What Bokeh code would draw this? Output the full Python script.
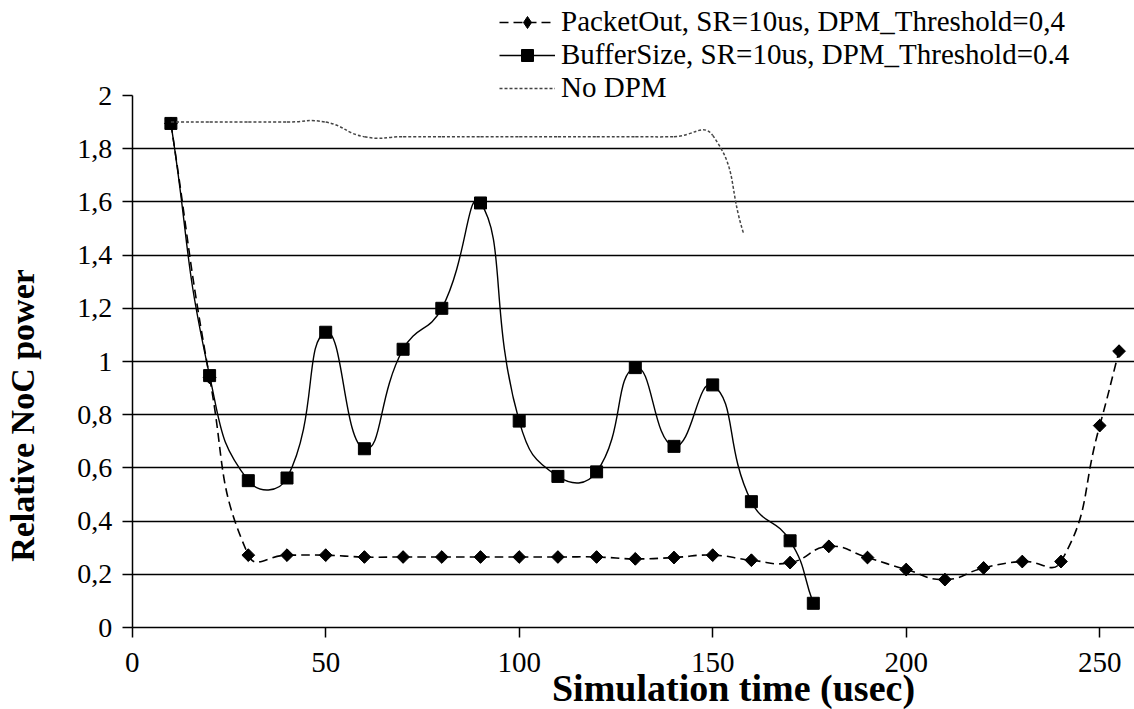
import math
from bokeh.plotting import figure
from bokeh.models import (Range1d, FixedTicker, Legend, LegendItem, Label,
                          ColumnDataSource, Grid)
from bokeh.embed import file_html
from bokeh.resources import INLINE

# ---------------- data ----------------
packet_x = [10, 20, 30, 40, 50, 60, 70, 80, 90, 100, 110, 120, 130, 140, 150,
            160, 170, 180, 190, 200, 210, 220, 230, 240, 250, 255]
packet_y = [1.895, 0.94, 0.272, 0.272, 0.272, 0.265, 0.265, 0.265, 0.265, 0.265,
            0.265, 0.265, 0.258, 0.263, 0.272, 0.253, 0.244, 0.305, 0.263, 0.218,
            0.18, 0.224, 0.248, 0.248, 0.759, 1.039]

buffer_x = [10, 20, 30, 40, 50, 60, 70, 80, 90, 100, 110, 120, 130, 140, 150,
            160, 170, 176]
buffer_y = [1.895, 0.947, 0.552, 0.562, 1.11, 0.672, 1.046, 1.2, 1.596, 0.776,
            0.568, 0.585, 0.977, 0.681, 0.912, 0.473, 0.326, 0.091]

nodpm_x = [10, 20, 30, 40, 50, 60, 70, 80, 90, 100, 110, 120, 130, 140, 150, 158]
nodpm_y = [1.9, 1.9, 1.9, 1.9, 1.9, 1.845, 1.845, 1.845, 1.845, 1.845, 1.845,
           1.845, 1.845, 1.845, 1.85, 1.48]

series_names = ["PacketOut, SR=10us, DPM_Threshold=0,4",
                "BufferSize, SR=10us, DPM_Threshold=0.4",
                "No DPM"]

x_ticks = [0, 50, 100, 150, 200, 250]
y_ticks = [0, 0.2, 0.4, 0.6, 0.8, 1, 1.2, 1.4, 1.6, 1.8, 2]
y_tick_labels = ["0", "0,2", "0,4", "0,6", "0,8", "1", "1,2", "1,4", "1,6", "1,8", "2"]
grid_ticks = [0.2, 0.4, 0.6, 0.8, 1, 1.2, 1.4, 1.6, 1.8]

x_title = "Simulation time (usec)"
y_title = "Relative NoC power"

# ---------------- layout (pixels) ----------------
W, H = 1134, 709
X0_PX, Y0_PX = 131.7, 627.0     # where data (0, 0) lies in the figure
KX, KY = 3.87, 266.0            # pixels per data unit
X_MIN = -X0_PX / KX
X_MAX = (W - X0_PX) / KX
Y_MIN = -(H - Y0_PX) / KY
Y_MAX = Y0_PX / KY
Y_TOP = 2

SERIF = "Liberation Serif"

p = figure(width=W, height=H, output_backend="svg", toolbar_location=None,
           x_range=Range1d(X_MIN, X_MAX), y_range=Range1d(Y_MIN, Y_MAX),
           min_border=0)
p.title.visible = False
p.outline_line_color = None
p.background_fill_color = "white"
p.border_fill_color = "white"

for ax in (p.xaxis[0], p.yaxis[0]):
    ax.fixed_location = 0
    ax.axis_line_color = "black"
    ax.axis_line_width = 1.5
    ax.major_tick_line_color = "black"
    ax.major_tick_line_width = 1.5
    ax.major_tick_out = 10
    ax.major_tick_in = 0
    ax.minor_tick_line_color = None
    ax.major_label_text_font = SERIF
    ax.major_label_text_color = "black"

p.xaxis.major_label_text_font_size = "29px"
p.xaxis.major_label_standoff = 15
p.yaxis.major_label_text_font_size = "28px"
p.yaxis.major_label_standoff = 10

p.xaxis.bounds = (0, X_MAX)
p.yaxis.bounds = (0, Y_TOP)
p.xaxis.ticker = FixedTicker(ticks=x_ticks)
p.yaxis.ticker = FixedTicker(ticks=y_ticks)
p.yaxis.major_label_overrides = dict(zip(y_ticks, y_tick_labels))

p.xgrid.visible = False
p.ygrid.ticker = FixedTicker(ticks=grid_ticks)
p.ygrid.grid_line_color = "black"
p.ygrid.grid_line_width = 1.6
if "cross_bounds" in Grid.properties():
    p.ygrid.cross_bounds = (0, X_MAX)


def smooth_segments(xs, ys, t=0.5):
    """Bezier control points for a smoothed line through the given points."""
    n = len(xs)
    P = [(x * KX, y * KY) for x, y in zip(xs, ys)]
    fwd, bwd = [], []
    for i in range(n):
        prev = P[i - 1] if i > 0 else P[i]
        nxt = P[i + 1] if i < n - 1 else P[i]
        d1 = math.hypot(P[i][0] - prev[0], P[i][1] - prev[1])
        d2 = math.hypot(nxt[0] - P[i][0], nxt[1] - P[i][1])
        tot = d1 + d2 if d1 + d2 > 0 else 1
        vx, vy = nxt[0] - prev[0], nxt[1] - prev[1]
        fwd.append((P[i][0] + vx * t * d2 / tot, P[i][1] + vy * t * d2 / tot))
        bwd.append((P[i][0] - vx * t * d1 / tot, P[i][1] - vy * t * d1 / tot))
    d = dict(x0=[], y0=[], x1=[], y1=[], cx0=[], cy0=[], cx1=[], cy1=[])
    for i in range(n - 1):
        d["x0"].append(xs[i]); d["y0"].append(ys[i])
        d["x1"].append(xs[i + 1]); d["y1"].append(ys[i + 1])
        d["cx0"].append(fwd[i][0] / KX); d["cy0"].append(fwd[i][1] / KY)
        d["cx1"].append(bwd[i + 1][0] / KX); d["cy1"].append(bwd[i + 1][1] / KY)
    return ColumnDataSource(d)


BZ = dict(x0="x0", y0="y0", x1="x1", y1="y1", cx0="cx0", cy0="cy0", cx1="cx1", cy1="cy1")

# PacketOut (dashed, diamonds)
b_packet = p.bezier(**BZ, source=smooth_segments(packet_x, packet_y), line_color="black",
                    line_width=1.6, line_dash="9 5")
# a plain diamond (used by the legend) hidden under the diamond-shaped markers
m_packet = p.scatter(packet_x, packet_y, marker="diamond", size=12,
                     fill_color="black", line_color="black")
p.scatter(packet_x, packet_y, marker="square", size=9, angle=math.pi / 4,
          fill_color="black", line_color="black")

# BufferSize (solid, squares)
b_buffer = p.bezier(**BZ, source=smooth_segments(buffer_x, buffer_y), line_color="black",
                    line_width=1.4)
m_buffer = p.scatter(buffer_x, buffer_y, marker="square", size=12,
                     fill_color="black", line_color="black")

# No DPM (dotted)
b_nodpm = p.bezier(**BZ, source=smooth_segments(nodpm_x, nodpm_y), line_color="#444444",
                   line_width=1.5, line_dash="3 2")

ROW = 33
LEG_TOP = 5
legend = Legend(items=[
    LegendItem(label=series_names[0], renderers=[b_packet, m_packet]),
    LegendItem(label=series_names[1], renderers=[b_buffer, m_buffer]),
    LegendItem(label=series_names[2], renderers=[b_nodpm]),
], location=(499, H - LEG_TOP - 3 * ROW))
legend.border_line_color = None
legend.background_fill_alpha = 0
legend.padding = 0
legend.margin = 0
legend.spacing = 0
legend.glyph_width = 56
legend.glyph_height = 30
legend.label_height = ROW
legend.label_standoff = 6
legend.label_text_font = SERIF
legend.label_text_font_size = "29px"
legend.label_text_color = "black"
p.add_layout(legend)

# Axis titles
p.add_layout(Label(x=733, y=1, x_units="screen", y_units="screen", text=x_title,
                   text_font=SERIF, text_font_style="bold", text_font_size="38px",
                   text_align="center", text_baseline="bottom", text_color="black"))
p.add_layout(Label(x=22, y=H - 415, x_units="screen", y_units="screen",
                   text=y_title, angle=math.pi / 2, text_font=SERIF,
                   text_font_style="bold", text_font_size="34px", text_align="center",
                   text_baseline="middle", text_color="black"))

open("out.html", "w").write(file_html(p, INLINE))
